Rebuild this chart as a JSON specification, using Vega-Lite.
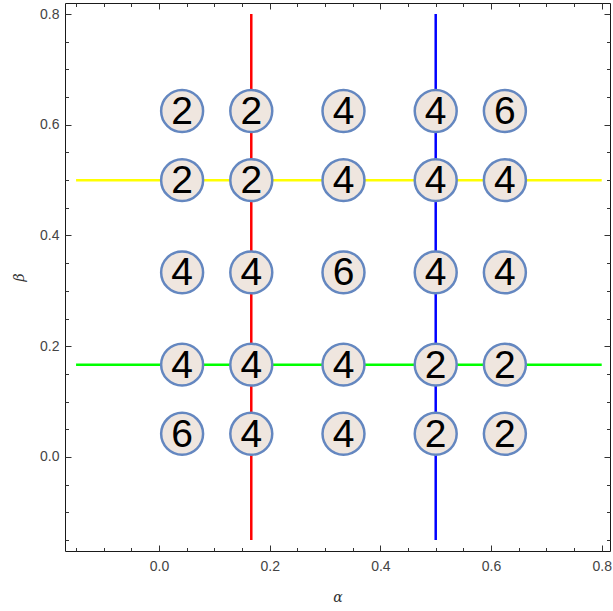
{
  "$schema": "https://vega.github.io/schema/vega-lite/v6.json",
  "width": 545,
  "height": 548,
  "autosize": {"type": "none"},
  "padding": {"left": 65, "top": 3, "right": 3, "bottom": 60},
  "background": "white",
  "config": {
    "view": {"stroke": "#1a1a1a", "strokeWidth": 1},
    "axis": {
      "grid": false,
      "domain": false,
      "tickColor": "#333",
      "tickWidth": 1,
      "labelFont": "Liberation Sans",
      "labelFontSize": 14,
      "labelColor": "#444",
      "titleFont": "DejaVu Serif",
      "titleFontSize": 14,
      "titleFontWeight": "normal",
      "titleFontStyle": "italic",
      "titleColor": "#333"
    }
  },
  "datasets": {
    "vlines": [
      {"x": 0.16667, "y0": -0.15, "y1": 0.8, "c": "red"},
      {"x": 0.5, "y0": -0.15, "y1": 0.8, "c": "blue"}
    ],
    "hlines": [
      {"y": 0.5, "x0": -0.15, "x1": 0.8, "c": "yellow"},
      {"y": 0.16667, "x0": -0.15, "x1": 0.8, "c": "green"}
    ],
    "pts": [
      {"a": 0.04167, "b": 0.625, "n": "2"},
      {"a": 0.16667, "b": 0.625, "n": "2"},
      {"a": 0.33333, "b": 0.625, "n": "4"},
      {"a": 0.5, "b": 0.625, "n": "4"},
      {"a": 0.625, "b": 0.625, "n": "6"},
      {"a": 0.04167, "b": 0.5, "n": "2"},
      {"a": 0.16667, "b": 0.5, "n": "2"},
      {"a": 0.33333, "b": 0.5, "n": "4"},
      {"a": 0.5, "b": 0.5, "n": "4"},
      {"a": 0.625, "b": 0.5, "n": "4"},
      {"a": 0.04167, "b": 0.33333, "n": "4"},
      {"a": 0.16667, "b": 0.33333, "n": "4"},
      {"a": 0.33333, "b": 0.33333, "n": "6"},
      {"a": 0.5, "b": 0.33333, "n": "4"},
      {"a": 0.625, "b": 0.33333, "n": "4"},
      {"a": 0.04167, "b": 0.16667, "n": "4"},
      {"a": 0.16667, "b": 0.16667, "n": "4"},
      {"a": 0.33333, "b": 0.16667, "n": "4"},
      {"a": 0.5, "b": 0.16667, "n": "2"},
      {"a": 0.625, "b": 0.16667, "n": "2"},
      {"a": 0.04167, "b": 0.04167, "n": "6"},
      {"a": 0.16667, "b": 0.04167, "n": "4"},
      {"a": 0.33333, "b": 0.04167, "n": "4"},
      {"a": 0.5, "b": 0.04167, "n": "2"},
      {"a": 0.625, "b": 0.04167, "n": "2"}
    ]
  },
  "resolve": {"axis": {"x": "independent", "y": "independent"}},
  "layer": [
    {
      "data": {"name": "vlines"},
      "mark": {"type": "rule", "strokeWidth": 2.5},
      "encoding": {
        "x": {"field": "x", "type": "quantitative",
          "scale": {"domain": [-0.17, 0.815], "nice": false, "zero": false},
          "axis": {"orient": "bottom", "values": [0, 0.2, 0.4, 0.6, 0.8], "format": ".1f", "tickSize": -6, "labelPadding": 14, "title": "α", "titlePadding": 17}},
        "y": {"field": "y0", "type": "quantitative",
          "scale": {"domain": [-0.17, 0.82], "nice": false, "zero": false},
          "axis": {"orient": "left", "values": [0, 0.2, 0.4, 0.6, 0.8], "format": ".1f", "tickSize": -6, "labelPadding": 12, "title": "β", "titlePadding": 13}},
        "y2": {"field": "y1"},
        "color": {"field": "c", "type": "nominal", "scale": {"domain": ["red", "blue", "yellow", "green"], "range": ["#ff0000", "#0000ff", "#ffff00", "#00ff00"]}, "legend": null}
      }
    },
    {
      "data": {"name": "hlines"},
      "mark": {"type": "rule", "strokeWidth": 2.5},
      "encoding": {
        "y": {"field": "y", "type": "quantitative",
          "scale": {"domain": [-0.17, 0.82], "nice": false, "zero": false},
          "axis": {"orient": "left", "values": [-0.15, -0.1, -0.05, 0.05, 0.1, 0.15, 0.25, 0.3, 0.35, 0.45, 0.5, 0.55, 0.65, 0.7, 0.75], "labels": false, "tickSize": -3.5, "title": null}},
        "x": {"field": "x0", "type": "quantitative",
          "scale": {"domain": [-0.17, 0.815], "nice": false, "zero": false},
          "axis": {"orient": "bottom", "values": [-0.15, -0.1, -0.05, 0.05, 0.1, 0.15, 0.25, 0.3, 0.35, 0.45, 0.5, 0.55, 0.65, 0.7, 0.75], "labels": false, "tickSize": -3.5, "title": null}},
        "x2": {"field": "x1"},
        "color": {"field": "c", "type": "nominal", "scale": {"domain": ["red", "blue", "yellow", "green"], "range": ["#ff0000", "#0000ff", "#ffff00", "#00ff00"]}, "legend": null}
      }
    },
    {
      "data": {"name": "pts"},
      "mark": {"type": "point", "shape": "circle", "filled": false, "fill": "#efe6df", "fillOpacity": 1, "stroke": "#6487c0", "strokeWidth": 2.5, "opacity": 1, "size": 1760},
      "encoding": {
        "x": {"field": "a", "type": "quantitative",
          "scale": {"domain": [-0.17, 0.815], "nice": false, "zero": false},
          "axis": {"orient": "top", "values": [0, 0.2, 0.4, 0.6, 0.8], "labels": false, "tickSize": -6, "title": null}},
        "y": {"field": "b", "type": "quantitative",
          "scale": {"domain": [-0.17, 0.82], "nice": false, "zero": false},
          "axis": {"orient": "right", "values": [0, 0.2, 0.4, 0.6, 0.8], "labels": false, "tickSize": -6, "title": null}}
      }
    },
    {
      "data": {"name": "pts"},
      "mark": {"type": "text", "font": "Liberation Sans", "fontSize": 39, "color": "#000", "align": "center", "baseline": "middle", "dy": 1},
      "encoding": {
        "x": {"field": "a", "type": "quantitative",
          "scale": {"domain": [-0.17, 0.815], "nice": false, "zero": false},
          "axis": {"orient": "top", "values": [-0.15, -0.1, -0.05, 0.05, 0.1, 0.15, 0.25, 0.3, 0.35, 0.45, 0.5, 0.55, 0.65, 0.7, 0.75], "labels": false, "tickSize": -3.5, "title": null}},
        "y": {"field": "b", "type": "quantitative",
          "scale": {"domain": [-0.17, 0.82], "nice": false, "zero": false},
          "axis": {"orient": "right", "values": [-0.15, -0.1, -0.05, 0.05, 0.1, 0.15, 0.25, 0.3, 0.35, 0.45, 0.5, 0.55, 0.65, 0.7, 0.75], "labels": false, "tickSize": -3.5, "title": null}},
        "text": {"field": "n", "type": "nominal"}
      }
    }
  ]
}
